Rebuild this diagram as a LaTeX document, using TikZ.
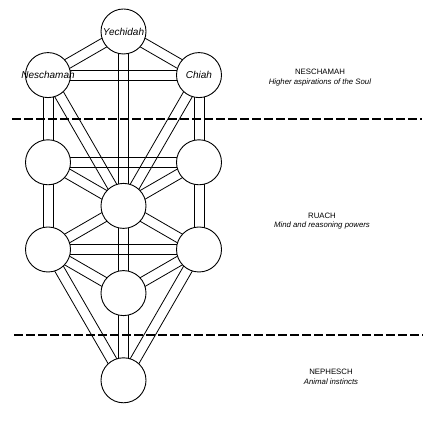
\documentclass[tikz,border=0pt]{standalone}
\usepackage{fontspec}
\setmainfont{Liberation Sans}
\usetikzlibrary{calc,backgrounds}

\newcommand{\drawchannel}[2]{%
  \draw[channel] ($(#1)!5pt!90:(#2)$) -- ($(#2)!5pt!-90:(#1)$);
  \draw[channel] ($(#1)!5pt!-90:(#2)$) -- ($(#2)!5pt!90:(#1)$);}

\begin{document}
\begin{tikzpicture}[x=1pt, y=1pt, node distance=43.6pt,
sephira/.style={circle, draw=black, fill=white, line width=0.9pt, minimum size=45pt, inner sep=0pt},
sephname/.style={font=\fontsize{10}{12}\selectfont\itshape, inner sep=0pt},
channel/.style={line width=0.8pt},
plane/.style={align=center, font=\fontsize{7.8}{9.5}\selectfont},
divider/.style={line width=1.3pt, dash pattern=on 8.5pt off 3.5pt}
]
\useasboundingbox (0,0) rectangle (432,436);

%Nodes
\node[sephira, label={[sephname]center:Yechidah}]  (kether)    at (123.5,404.5)                     {};
\node[sephira, label={[sephname]center:Neschamah}] (binah)     [below of = kether, xshift=-75.5pt]  {};
\node[sephira, label={[sephname]center:Chiah}]     (chokmah)   [below of = kether, xshift=75.5pt]   {};
\node[sephira]                                     (geburah)   [below of = binah, yshift=-43.6pt]   {};
\node[sephira]                                     (chesed)    [below of = chokmah, yshift=-43.6pt] {};
\node[sephira]                                     (tiphareth) [below of = geburah, xshift=75.5pt]  {};
\node[sephira]                                     (hod)       [below of = tiphareth, xshift=-75.5pt] {};
\node[sephira]                                     (netzach)   [below of = tiphareth, xshift=75.5pt]  {};
\node[sephira]                                     (yesod)     [below of = hod, xshift=75.5pt]      {};
\node[sephira]                                     (malkuth)   [below of = yesod, yshift=-43.6pt]   {};

%Planes
\node[plane] (neschamah) at (320,358.5) {NESCHAMAH\\\textit{Higher aspirations of the Soul}};
\node[plane] (ruach)     at (322,215)   {RUACH\\\textit{Mind and reasoning powers}};
\node[plane] (nephesch)  at (331,59)    {NEPHESCH\\\textit{Animal instincts}};

%Lines
\begin{pgfonlayer}{background}
\drawchannel{kether}{binah}
\drawchannel{kether}{chokmah}
\drawchannel{kether}{tiphareth}
\drawchannel{binah}{chokmah}
\drawchannel{binah}{geburah}
\drawchannel{binah}{tiphareth}
\drawchannel{chokmah}{chesed}
\drawchannel{chokmah}{tiphareth}
\drawchannel{geburah}{chesed}
\drawchannel{geburah}{tiphareth}
\drawchannel{chesed}{tiphareth}
\drawchannel{geburah}{hod}
\drawchannel{chesed}{netzach}
\drawchannel{tiphareth}{hod}
\drawchannel{tiphareth}{netzach}
\drawchannel{tiphareth}{yesod}
\drawchannel{hod}{netzach}
\drawchannel{hod}{yesod}
\drawchannel{netzach}{yesod}
\drawchannel{hod}{malkuth}
\drawchannel{netzach}{malkuth}
\drawchannel{yesod}{malkuth}
\end{pgfonlayer}

%Dividers
\draw[divider] (12,317) -- (422,317);
\draw[divider] (14,101) -- (423,101);
\end{tikzpicture}
\end{document}
